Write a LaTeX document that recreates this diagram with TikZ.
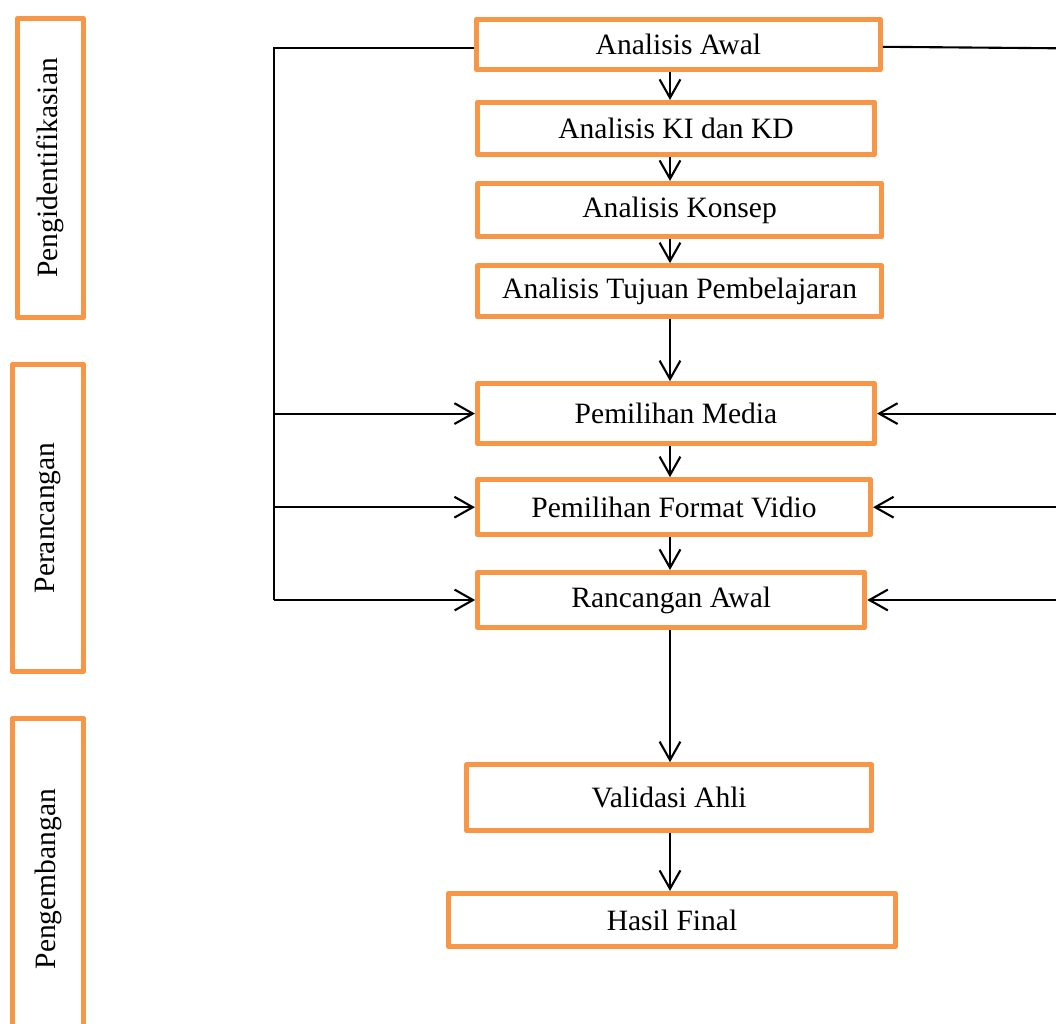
\documentclass[tikz,border=0pt]{standalone}
\usepackage{fontspec}
\setmainfont{Liberation Serif}
\usetikzlibrary{arrows.meta}
\definecolor{boxorange}{HTML}{F79646}

\begin{document}
\begin{tikzpicture}[
    box/.style={draw=boxorange,line width=3.5pt,line join=round,inner sep=0pt,font=\fontsize{21}{25}\selectfont},
    side/.style={box,rotate=90},
    arr/.style={line width=1.5pt,-{Straight Barb[length=0.46cm,width=0.52cm,line width=1.5pt]}},
    con/.style={line width=1.5pt}]
      \useasboundingbox (0,0) rectangle (26.4,-25.6);
      \node[side,minimum width=7.48cm,minimum height=1.65cm] (ident) at (1.26,-4.2) {Pengidentifikasian};
      \node[side,minimum width=7.68cm,minimum height=1.78cm] (rancang) at (1.2,-12.95) {Perancangan};
      \node[side,minimum width=8.04cm,minimum height=1.78cm] (kembang) at (1.2,-21.98) {Pengembangan};
      \node[box,minimum width=10.1cm,minimum height=1.25cm] (awal) at (16.96,-1.11) {Analisis Awal};
      \node[box,minimum width=9.93cm,minimum height=1.3cm] (kikd) at (16.9,-3.21) {Analisis KI dan KD};
      \node[box,minimum width=10.1cm,minimum height=1.33cm] (konsep) at (16.99,-5.25) {Analisis Konsep};
      \node[box,minimum width=10.1cm,minimum height=1.28cm] (tujuan) at (16.99,-7.28) {Analisis Tujuan Pembelajaran};
      \node[box,minimum width=9.93cm,minimum height=1.5cm] (media) at (16.9,-10.34) {Pemilihan Media};
      \node[box,minimum width=9.83cm,minimum height=1.38cm] (format) at (16.85,-12.68) {Pemilihan Format Vidio};
      \node[box,minimum width=9.68cm,minimum height=1.38cm] (rancangan) at (16.78,-15) {Rancangan Awal};
      \node[box,minimum width=10.13cm,minimum height=1.65cm] (validasi) at (16.73,-19.94) {Validasi Ahli};
      \node[box,minimum width=11.18cm,minimum height=1.33cm] (hasil) at (16.8,-23) {Hasil Final};
      \coordinate (spine) at (16.75,0);
      \coordinate (lx) at (6.85,0);
      \coordinate (rx) at (26.8,0);
      \draw[arr] (awal.south -| spine) -- (kikd.north -| spine);
      \draw[arr] (kikd.south -| spine) -- (konsep.north -| spine);
      \draw[arr] (konsep.south -| spine) -- (tujuan.north -| spine);
      \draw[arr] (tujuan.south -| spine) -- (media.north -| spine);
      \draw[arr] (media.south -| spine) -- (format.north -| spine);
      \draw[arr] (format.south -| spine) -- (rancangan.north -| spine);
      \draw[arr] (rancangan.south -| spine) -- (validasi.north -| spine);
      \draw[arr] (validasi.south -| spine) -- (hasil.north -| spine);
      \draw[con] ([yshift=-0.1cm]awal.west) -- ([yshift=-0.1cm]awal.west -| lx) -- (rancangan.west -| lx);
      \draw[arr] (media.west -| lx) -- (media.west);
      \draw[arr] (format.west -| lx) -- (format.west);
      \draw[arr] (rancangan.west -| lx) -- (rancangan.west);
      \draw[con] ([yshift=-0.06cm]awal.east) -- ([yshift=-0.1cm]awal.east -| rx);
      \draw[arr] (media.east -| rx) -- (media.east);
      \draw[arr] (format.east -| rx) -- (format.east);
      \draw[arr] (rancangan.east -| rx) -- (rancangan.east);
    \end{tikzpicture}
\end{document}
